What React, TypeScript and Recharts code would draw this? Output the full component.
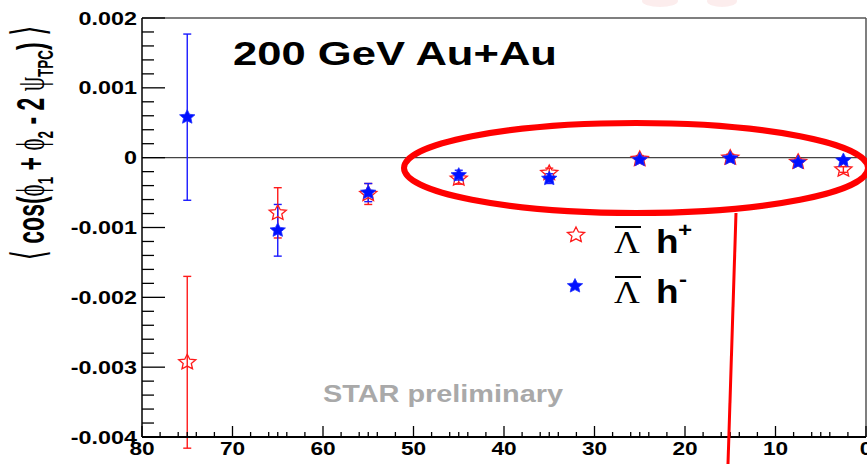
import React from 'react';
import { ScatterChart, Scatter, XAxis, YAxis, ErrorBar, ReferenceLine } from 'recharts';

// Centrality bin centres (%)
const centrality = [75, 65, 55, 45, 35, 25, 15, 7.5, 2.5];

// anti-Lambda + h+ correlator and its statistical error
const lambdaHPlus = [-0.00293, -0.00079, -0.00052, -0.0003, -0.00022, -0.00002, 0.0, -0.00006, -0.00017];
const lambdaHPlusErr = [0.00123, 0.00036, 0.00015, 0.00008, 0.00007, 0.00005, 0.00005, 0.00004, 0.00004];

// anti-Lambda + h- correlator and its statistical error
const lambdaHMinus = [0.00058, -0.00104, -0.0005, -0.00025, -0.0003, -0.00003, -0.00001, -0.00007, -0.00004];
const lambdaHMinusErr = [0.00119, 0.00037, 0.00013, 0.00007, 0.00007, 0.00005, 0.00005, 0.00004, 0.00004];

// Axis ticks and labels
const xMajorTicks = [80, 70, 60, 50, 40, 30, 20, 10, 0];
const xTickLabels = ['80', '70', '60', '50', '40', '30', '20', '10', '0'];
const xMinorOffsets = [2, 4, 5, 6, 8];
const yMajorTicks = [-0.004, -0.003, -0.002, -0.001, 0, 0.001, 0.002];
const yTickLabels = ['-0.004', '-0.003', '-0.002', '-0.001', '0', '0.001', '0.002'];
const yMinorPerMajor = 5;

const xAllTicks: number[] = [...xMajorTicks];
xMajorTicks.slice(0, -1).forEach((m) => xMinorOffsets.forEach((o) => xAllTicks.push(m - 10 + o)));

const yAllTicks: number[] = [];
for (let i = 0; i < yMajorTicks.length - 1; i++) {
  const step = (yMajorTicks[i + 1] - yMajorTicks[i]) / yMinorPerMajor;
  for (let k = 0; k < yMinorPerMajor; k++) yAllTicks.push(yMajorTicks[i] + k * step);
}
yAllTicks.push(yMajorTicks[yMajorTicks.length - 1]);

const plusData = centrality.map((c, i) => ({ c, v: lambdaHPlus[i], e: lambdaHPlusErr[i] }));
const minusData = centrality.map((c, i) => ({ c, v: lambdaHMinus[i], e: lambdaHMinusErr[i] }));

const SANS = 'Liberation Sans, Arial, Helvetica, sans-serif';
const SERIF = 'Liberation Serif, Times New Roman, serif';

function starPath(cx: number, cy: number, R: number, r: number, sx: number) {
  let d = '';
  for (let k = 0; k < 10; k++) {
    const a = (-90 + k * 36) * (Math.PI / 180);
    const rad = k % 2 === 0 ? R : r;
    const x = cx + sx * rad * Math.cos(a);
    const y = cy + rad * Math.sin(a);
    d += (k === 0 ? 'M' : 'L') + x.toFixed(2) + ',' + y.toFixed(2);
  }
  return d + 'Z';
}

const OpenStar = (p: any) => (
  <path d={starPath(p.cx, p.cy, 8, 3.8, 1.12)} fill="none" stroke="#ff1a1a" strokeWidth={1.3} />
);
const FilledStar = (p: any) => (
  <path d={starPath(p.cx, p.cy, 7.5, 3.6, 1.08)} fill="#0010ff" stroke="#2030ff" strokeWidth={0.8} />
);

const XTick = (p: any) => {
  const v = p.payload.value;
  const idx = xMajorTicks.indexOf(v);
  const major = idx >= 0;
  return (
    <g>
      <line x1={p.x} x2={p.x} y1={p.y} y2={p.y - (major ? 11 : 5)} stroke="#000" strokeWidth={1.3} />
      {major && (
        <text
          transform={`translate(${p.x},${p.y + 18}) scale(1.22,1)`}
          textAnchor="middle"
          fontFamily={SANS}
          fontWeight="bold"
          fontSize={18.6}
          fill="#000"
        >
          {xTickLabels[idx]}
        </text>
      )}
    </g>
  );
};

const YTick = (p: any) => {
  const v = p.payload.value;
  const idx = yMajorTicks.findIndex((m) => Math.abs(m - v) < 1e-9);
  const major = idx >= 0;
  return (
    <g>
      <line x1={p.x} x2={p.x + (major ? 23 : 12)} y1={p.y} y2={p.y} stroke="#000" strokeWidth={1.3} />
      {major && (
        <text
          transform={`translate(${p.x - 5},${p.y + 6.5}) scale(1.32,1)`}
          textAnchor="end"
          fontFamily={SANS}
          fontWeight="bold"
          fontSize={17.7}
          fill="#000"
        >
          {yTickLabels[idx]}
        </text>
      )}
    </g>
  );
};

const Overlay = () => (
  <svg
    width={867}
    height={464}
    style={{ position: 'absolute', left: 0, top: 0, pointerEvents: 'none' }}
  >
    {/* faint marks at the upper edge */}
    <ellipse cx={660} cy={1} rx={18} ry={6} fill="#f7caca" opacity={0.35} />
    <ellipse cx={722} cy={1} rx={15} ry={6} fill="#f7caca" opacity={0.35} />

    {/* y-axis title */}
    <text
      transform="translate(44,143) scale(1.7,1) rotate(-90)"
      textAnchor="middle"
      fontFamily={SANS}
      fontWeight="bold"
      fontSize={23}
      fill="#000"
      style={{ whiteSpace: 'pre' }}
    >
      <tspan fontFamily="DejaVu Sans" fontWeight="normal" fontSize={27}>⟨</tspan>
      <tspan> cos(</tspan>
      <tspan fontFamily={SERIF} fontWeight="normal">ϕ</tspan>
      <tspan fontSize={13.5} dy={5}>1</tspan>
      <tspan dy={-5}> + </tspan>
      <tspan fontFamily={SERIF} fontWeight="normal">ϕ</tspan>
      <tspan fontSize={13.5} dy={5}>2</tspan>
      <tspan dy={-5}> - 2 </tspan>
      <tspan fontFamily={SERIF} fontWeight="normal">ψ</tspan>
      <tspan fontSize={13.5} dy={5}>TPC</tspan>
      <tspan dy={-5}>) </tspan>
      <tspan fontFamily="DejaVu Sans" fontWeight="normal" fontSize={27}>⟩</tspan>
    </text>

    {/* title */}
    <text
      x={233}
      y={65}
      fontFamily={SANS}
      fontWeight="bold"
      fontSize={32.5}
      textLength={324}
      lengthAdjust="spacingAndGlyphs"
      fill="#000"
    >
      200 GeV Au+Au
    </text>

    {/* preliminary tag */}
    <text
      x={323}
      y={402}
      fontFamily={SANS}
      fontWeight="bold"
      fontSize={23}
      textLength={240}
      lengthAdjust="spacingAndGlyphs"
      fill="#a9a9a9"
    >
      STAR preliminary
    </text>

    {/* legend */}
    <path d={starPath(576, 235, 8, 3.8, 1.12)} fill="none" stroke="#ff1a1a" strokeWidth={1.3} />
    <line x1={615} x2={641} y1={227} y2={227} stroke="#000" strokeWidth={2} />
    <text transform="translate(614,252.7) scale(1.15,1)" fontFamily={SERIF} fontSize={31} fill="#000">Λ</text>
    <text transform="translate(656,252.7) scale(1.12,1)" fontFamily={SANS} fontWeight="bold" fontSize={33} fill="#000">h</text>
    <text transform="translate(678,237) scale(1.15,1)" fontFamily={SANS} fontWeight="bold" fontSize={21} fill="#000">+</text>

    <path d={starPath(575, 286, 7.5, 3.6, 1.08)} fill="#0010ff" stroke="#2030ff" strokeWidth={0.8} />
    <line x1={615} x2={641} y1={277} y2={277} stroke="#000" strokeWidth={2} />
    <text transform="translate(614,302.7) scale(1.15,1)" fontFamily={SERIF} fontSize={31} fill="#000">Λ</text>
    <text transform="translate(656,302.7) scale(1.12,1)" fontFamily={SANS} fontWeight="bold" fontSize={33} fill="#000">h</text>
    <text transform="translate(679,286) scale(1.15,1)" fontFamily={SANS} fontWeight="bold" fontSize={21} fill="#000">-</text>

    {/* highlight ellipse and pointer line */}
    <ellipse cx={636} cy={168} rx={232} ry={45} fill="none" stroke="#ff0000" strokeWidth={6} />
    <line x1={736} y1={213} x2={728} y2={464} stroke="#ff0000" strokeWidth={3} />
  </svg>
);

export default function App() {
  return (
    <div style={{ position: 'absolute', left: 0, top: 0, width: 867, height: 464, background: '#fff' }}>
      <ScatterChart width={867} height={464} margin={{ top: 18, right: 1, bottom: 0, left: 0 }}>
        <XAxis
          type="number"
          dataKey="c"
          domain={[0, 80]}
          reversed
          allowDataOverflow
          ticks={xAllTicks}
          interval={0}
          tickSize={0}
          tickMargin={0}
          tickLine={false}
          tick={<XTick />}
          axisLine={{ stroke: '#000', strokeWidth: 2 }}
          height={27}
        />
        <YAxis
          type="number"
          dataKey="v"
          domain={[-0.004, 0.002]}
          allowDataOverflow
          ticks={yAllTicks}
          interval={0}
          tickSize={0}
          tickMargin={0}
          tickLine={false}
          tick={<YTick />}
          axisLine={{ stroke: '#000', strokeWidth: 1.5 }}
          width={142}
        />
        <ReferenceLine y={0.002} stroke="#555" strokeWidth={1.5} />
        <ReferenceLine x={0} stroke="#555" strokeWidth={1.5} />
        <ReferenceLine y={0} stroke="#444" strokeWidth={1.3} />
        <Scatter name="Λ h+" data={plusData} shape={OpenStar} isAnimationActive={false}>
          <ErrorBar dataKey="e" direction="y" width={4} stroke="#ff1a1a" strokeWidth={1.4} isAnimationActive={false} />
        </Scatter>
        <Scatter name="Λ h-" data={minusData} shape={FilledStar} isAnimationActive={false}>
          <ErrorBar dataKey="e" direction="y" width={4} stroke="#1a1aff" strokeWidth={1.4} isAnimationActive={false} />
        </Scatter>
      </ScatterChart>
      <Overlay />
    </div>
  );
}
